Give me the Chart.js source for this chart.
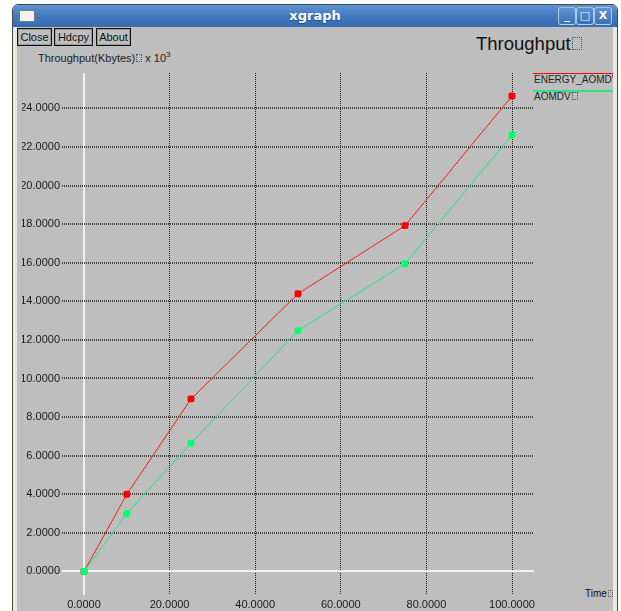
<!DOCTYPE html>
<html>
<head>
<meta charset="utf-8">
<script src="https://cdn.jsdelivr.net/npm/chart.js@4.4.1/dist/chart.umd.min.js"></script>
<style>
  html, body { margin:0; padding:0; background:#ffffff; width:621px; height:611px; overflow:hidden; font-family:"Liberation Sans", Arial, sans-serif; }
  .abs { position:absolute; }
  #frame { left:12px; top:4px; width:604px; height:640px; border:1px solid #4a4a4a; border-radius:6px 6px 0 0; background:#ebe8e2; }
  #titlebar { left:13px; top:5px; width:604px; height:22px; border-radius:5px 5px 0 0; background:linear-gradient(#5f94d4, #3f76bd 55%, #356bb2); }
  #titletext { left:13px; top:5px; width:604px; height:22px; line-height:22px; text-align:center; color:#fff; font-family:"DejaVu Sans", sans-serif; font-weight:bold; font-size:13px; text-shadow:0 1px 1px rgba(0,0,0,0.35); }
  #icon { left:19px; top:10px; width:14px; height:10px; background:#f4f4f4; border:1px solid #7a7a7a; }
  .wbtn { top:7px; width:16px; height:16px; border:1px solid rgba(255,255,255,0.55); border-radius:3px; background:linear-gradient(#5e93d2,#3d70b4); color:#fff; font-family:"DejaVu Sans", sans-serif; font-weight:bold; font-size:11px; text-align:center; line-height:16px; }
  #content { left:17px; top:27px; width:596px; height:600px; background:#bebebe; }
  .btn { top:28px; height:16px; border:1px solid #111; box-shadow: inset 0 0 0 1px #9a9a9a; background:#bebebe; font-size:11px; line-height:16px; text-align:center; color:#111; }
  .tofu { display:inline-block; border:1px dotted #555; box-sizing:border-box; vertical-align:baseline; }
  #ptitle { left:476px; top:33px; font-size:18.5px; color:#111; white-space:nowrap; }
  #ytitle { left:38px; top:50px; font-size:11px; color:#222; white-space:nowrap; }
  #legend { left:533px; top:66px; width:80px; height:40px; overflow:hidden; }
  .lline { position:absolute; left:0; width:80px; height:1px; }
  .ltext { position:absolute; left:1px; font-size:10px; color:#222; white-space:nowrap; }
  #xtitle { left:585px; top:588px; font-size:10px; color:#111; white-space:nowrap; }
  #chart { position:absolute; left:0; top:0; z-index:5; pointer-events:none; }
</style>
</head>
<body>
<div id="frame" class="abs"></div>
<div id="titlebar" class="abs"></div>
<div id="titletext" class="abs">xgraph</div>
<div id="icon" class="abs"></div>
<div class="abs wbtn" style="left:558px;">_</div>
<div class="abs wbtn" style="left:576px;">□</div>
<div class="abs wbtn" style="left:594px;">X</div>
<div id="content" class="abs"></div>
<div class="abs btn" style="left:17px;width:33px;">Close</div>
<div class="abs btn" style="left:54px;width:37px;">Hdcpy</div>
<div class="abs btn" style="left:96px;width:33px;">About</div>
<div id="ptitle" class="abs">Throughput<span class="tofu" style="width:10px;height:13px;margin-left:1px;"></span></div>
<div id="ytitle" class="abs">Throughput(Kbytes)<span class="tofu" style="width:6px;height:8px;margin-left:1px;"></span> x 10<sup style="font-size:8px;">3</sup></div>
<div id="legend" class="abs">
  <div class="lline" style="top:7px;background:#ff0000;"></div>
  <div class="ltext" style="top:8px;">ENERGY_AOMDV</div>
  <div class="lline" style="top:24px;background:#2ee680;height:2px;"></div>
  <div class="ltext" style="top:25px;">AOMDV<span class="tofu" style="width:6px;height:8px;margin-left:1px;"></span></div>
</div>
<div id="xtitle" class="abs">Time<span class="tofu" style="width:5px;height:7px;margin-left:1px;"></span></div>
<canvas id="chart" width="621" height="611"></canvas>
<script>
// ---- data ----
const times = [0, 10, 25, 50, 75, 100];
const energyAomdv = [0, 4.0, 8.94, 14.39, 17.92, 24.64];
const aomdv = [0, 3.0, 6.64, 12.48, 15.95, 22.62];
const seriesNames = ['ENERGY_AOMDV', 'AOMDV'];
const xTickValues = [0, 20, 40, 60, 80, 100];
const yTickValues = [0, 2, 4, 6, 8, 10, 12, 14, 16, 18, 20, 22, 24];

const toPts = arr => times.map((t, i) => ({ x: t, y: arr[i] }));
const tickFont = { family: 'Liberation Sans', size: 11 };
const isZero = ctx => ctx.tick && ctx.tick.value === 0;

new Chart(document.getElementById('chart'), {
  type: 'line',
  data: {
    datasets: [
      { label: seriesNames[0], data: toPts(energyAomdv), borderColor: '#ff1a1a', backgroundColor: '#ff0000',
        borderWidth: 1, pointStyle: 'rectRounded', pointRadius: 4, pointBorderWidth: 0, order: 1, tension: 0 },
      { label: seriesNames[1], data: toPts(aomdv), borderColor: '#14eb7a', backgroundColor: '#00ff6e',
        borderWidth: 1, pointStyle: 'rectRounded', pointRadius: 4, pointBorderWidth: 0, order: 0, tension: 0 }
    ]
  },
  options: {
    responsive: false,
    animation: false,
    devicePixelRatio: 1,
    layout: { padding: { left: 22, right: 87, top: 73, bottom: 0 } },
    plugins: { legend: { display: false }, tooltip: { enabled: false } },
    scales: {
      x: {
        type: 'linear', min: -5.14, max: 105.14,
        afterBuildTicks: s => { s.ticks = xTickValues.map(v => ({ value: v })); },
        afterFit: s => { s.height = 16; },
        ticks: { color: '#1a1a1a', font: tickFont, padding: 3, maxRotation: 0, autoSkip: false,
                 callback: v => Number(v).toFixed(4) },
        grid: { drawTicks: false, color: ctx => isZero(ctx) ? '#f2f2f2' : '#1e1e1e',
                lineWidth: ctx => isZero(ctx) ? 2 : 1 },
        border: { display: false, dash: ctx => isZero(ctx) ? [] : [1, 1] }
      },
      y: {
        type: 'linear', min: -1.22, max: 25.83,
        afterBuildTicks: s => { s.ticks = yTickValues.map(v => ({ value: v })); },
        afterFit: s => { s.width = 40; },
        ticks: { color: '#1a1a1a', font: tickFont, padding: 2, autoSkip: false,
                 callback: v => Number(v).toFixed(4) },
        grid: { drawTicks: false, color: ctx => isZero(ctx) ? '#f2f2f2' : 'rgba(40,40,40,0.8)',
                lineWidth: 2 },
        border: { display: false, dash: ctx => isZero(ctx) ? [] : [1, 1] }
      }
    }
  }
});
</script>
</body>
</html>
